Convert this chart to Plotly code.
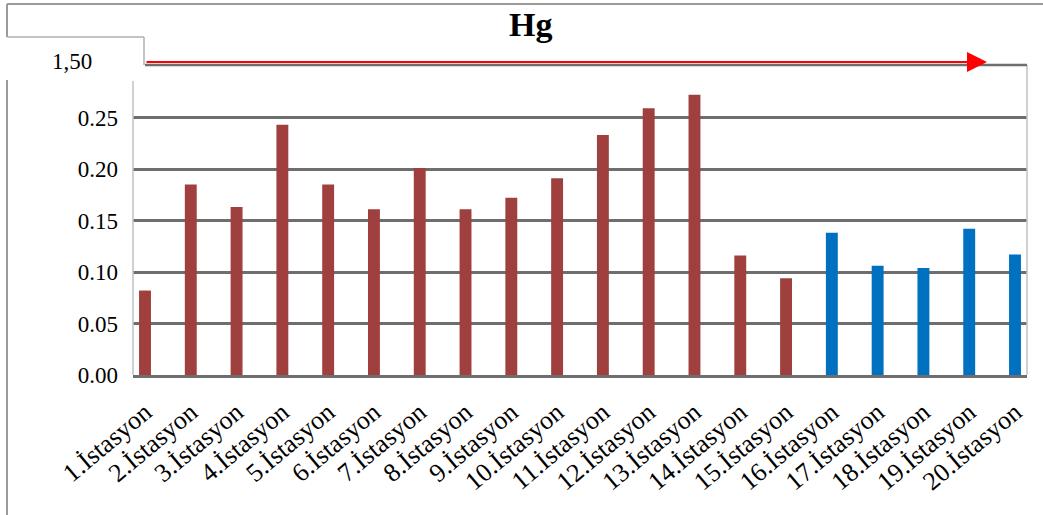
import plotly.graph_objects as go

categories = [f"{i}.İstasyon" for i in range(1, 21)]
red_stations = categories[:15]
red_values = [0.082, 0.185, 0.163, 0.243, 0.185, 0.161, 0.201, 0.161, 0.172, 0.191,
              0.233, 0.259, 0.272, 0.116, 0.094]
blue_stations = categories[15:]
blue_values = [0.138, 0.106, 0.104, 0.142, 0.117]
y_ticks = [0.00, 0.05, 0.10, 0.15, 0.20, 0.25]
title_text = "Hg"
corner_label = "1,50"

RED = "#A0403E"
BLUE = "#0070C0"
GRID = "#6E6E6E"
LIGHT = "#C0C0C0"
FONT = "Liberation Serif, Times New Roman, serif"

# plot area in pixels
L, R, T, B = 133, 1027, 66, 375
W, H = 1043, 515


def px(x):
    return (x - L) / (R - L)


def py(y):
    return (B - y) / (B - T)


fig = go.Figure()
fig.add_trace(go.Bar(x=red_stations, y=red_values, marker_color=RED, width=0.26,
                     marker_line_width=0, name="red"))
fig.add_trace(go.Bar(x=blue_stations, y=blue_values, marker_color=BLUE, width=0.26,
                     marker_line_width=0, name="blue"))

shapes = []


def line(x0, y0, x1, y1, color, w=1.5):
    shapes.append(dict(type="line", xref="paper", yref="paper",
                       x0=px(x0), y0=py(y0), x1=px(x1), y1=py(y1),
                       line=dict(color=color, width=w), layer="above"))


# outer frame pieces
line(7, 4, 1043, 4, "#9A9A9A", 2)
line(7, 4, 7, 37, "#9A9A9A", 2)
line(7, 37, 144, 37, "#B0B0B0", 1.5)
line(144, 37, 144, 65, "#B0B0B0", 1.5)
line(7, 80, 7, 515, "#9A9A9A", 2)
# axes frame
line(133, 81, 133, 375, LIGHT, 1.5)
line(1027, 65, 1027, 375, LIGHT, 1.5)
line(145, 65, 1027, 65, GRID, 2.5)

fig.update_layout(
    width=W, height=H,
    margin=dict(l=L, r=W - R, t=T, b=H - B, pad=0),
    paper_bgcolor="white", plot_bgcolor="white",
    showlegend=False, barmode="overlay",
    font=dict(family=FONT, color="black"),
    shapes=shapes,
    xaxis=dict(categoryorder="array", categoryarray=categories,
               range=[-0.262, 19.262], tickangle=-40,
               tickfont=dict(family=FONT, size=26, color="black"),
               showgrid=False, showline=True, linecolor=GRID, linewidth=2.5,
               ticks="", ticklabelstandoff=9),
    yaxis=dict(range=[0, 0.30], tickvals=y_ticks, tickformat=".2f",
               tickfont=dict(family=FONT, size=23, color="black"),
               showgrid=True, gridcolor=GRID, gridwidth=2.5,
               zeroline=False, showline=False, ticks="",
               ticklabelstandoff=14),
    annotations=[
        dict(text=f"<b>{title_text}</b>", xref="paper", yref="paper",
             x=px(530), y=py(25), xanchor="center", yanchor="middle",
             showarrow=False, font=dict(family=FONT, size=34, color="black")),
        dict(text=corner_label, xref="paper", yref="paper",
             x=px(72), y=py(61), xanchor="center", yanchor="middle",
             showarrow=False, font=dict(family=FONT, size=23, color="black")),
        dict(text="", xref="paper", yref="paper", x=px(987), y=py(62),
             axref="pixel", ayref="pixel", ax=-(987 - 145), ay=0,
             showarrow=True, arrowhead=2, arrowsize=2, arrowwidth=2,
             arrowcolor="#FF0000", standoff=0),
    ],
)

fig.write_html("out.html", config={"displayModeBar": False},
               post_script="document.body.style.margin='0';")
